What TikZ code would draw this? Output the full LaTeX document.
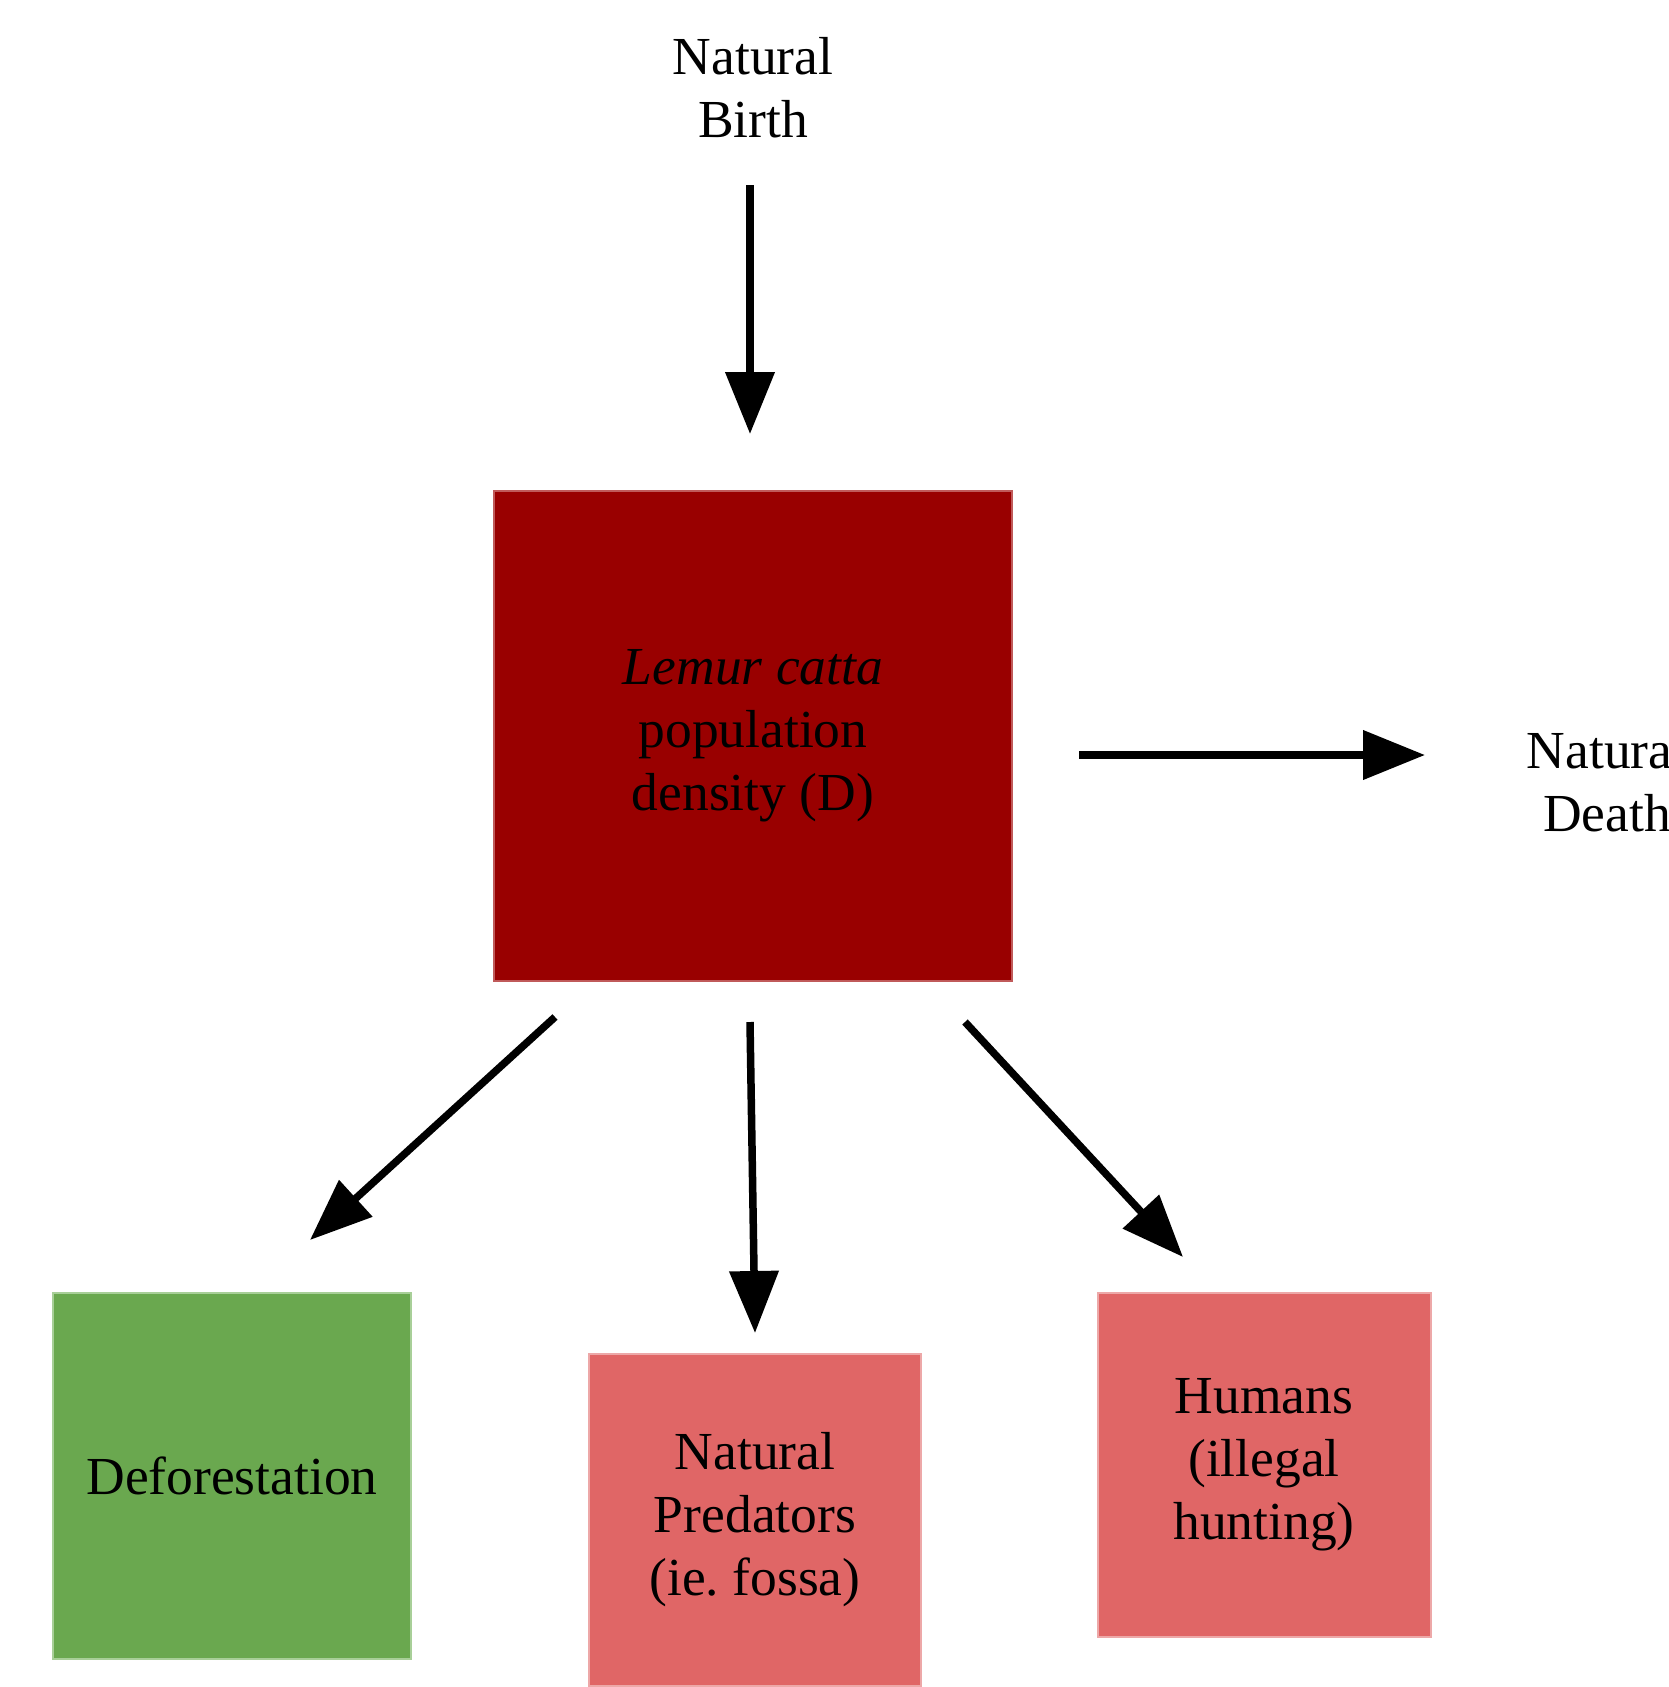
\documentclass[tikz,border=0pt]{standalone}
\usepackage{fontspec}
\setmainfont{Liberation Serif}
\usetikzlibrary{arrows.meta}
\definecolor{darkred}{HTML}{990000}
\definecolor{darkredline}{HTML}{C05A5A}
\definecolor{pinkfill}{HTML}{E06666}
\definecolor{pinkline}{HTML}{EDA8A8}
\definecolor{greenfill}{HTML}{6AA84F}
\definecolor{greenline}{HTML}{A8CF98}
\tikzset{
  lbl/.style={align=center, inner sep=0pt, font=\fontsize{53.5}{63}\selectfont\frenchspacing},
  boxnode/.style={lbl, line width=2pt},
  flow/.style={line width=7.5pt, -{Triangle[length=62pt,width=48pt]}},
}
\begin{document}
\begin{tikzpicture}[x=1pt,y=-1pt]
\useasboundingbox (0,0) rectangle (1669,1687);
\clip (0,0) rectangle (1669,1687);
% texts
\node[lbl] (birth) at (753,88) {Natural\\Birth};
\node[lbl] (death) at (1607,782) {Natural\\Death};
% boxes
\node[boxnode, fill=darkred, draw=darkredline, minimum width=518pt, minimum height=490pt] (pop) at (753,736) {\textit{Lemur catta}\\population\\density (D)};
\node[boxnode, fill=greenfill, draw=greenline, minimum width=358pt, minimum height=366pt] (defo) at (232,1476) {Deforestation};
\node[boxnode, fill=pinkfill, draw=pinkline, minimum width=332pt, minimum height=332pt] (pred) at (755,1520) {Natural\\Predators\\(ie. fossa)};
\node[boxnode, fill=pinkfill, draw=pinkline, minimum width=333pt, minimum height=344pt] (hum) at (1264,1465) {Humans\\(illegal\\hunting)};
% arrow ends
\coordinate (b1) at (750,185);
\coordinate (b2) at (750,434);
\coordinate (d1) at (1079,755);
\coordinate (d2) at (1425,755);
\coordinate (l1) at (555,1017);
\coordinate (l2) at (310,1240);
\coordinate (m1) at (750,1022);
\coordinate (m2) at (755,1333);
\coordinate (r1) at (965,1022);
\coordinate (r2) at (1183,1257);
% connectors
\draw[flow] (b1) -- (b2);
\draw[flow] (d1) -- (d2);
\draw[flow] (l1) -- (l2);
\draw[flow] (m1) -- (m2);
\draw[flow] (r1) -- (r2);
\end{tikzpicture}
\end{document}
